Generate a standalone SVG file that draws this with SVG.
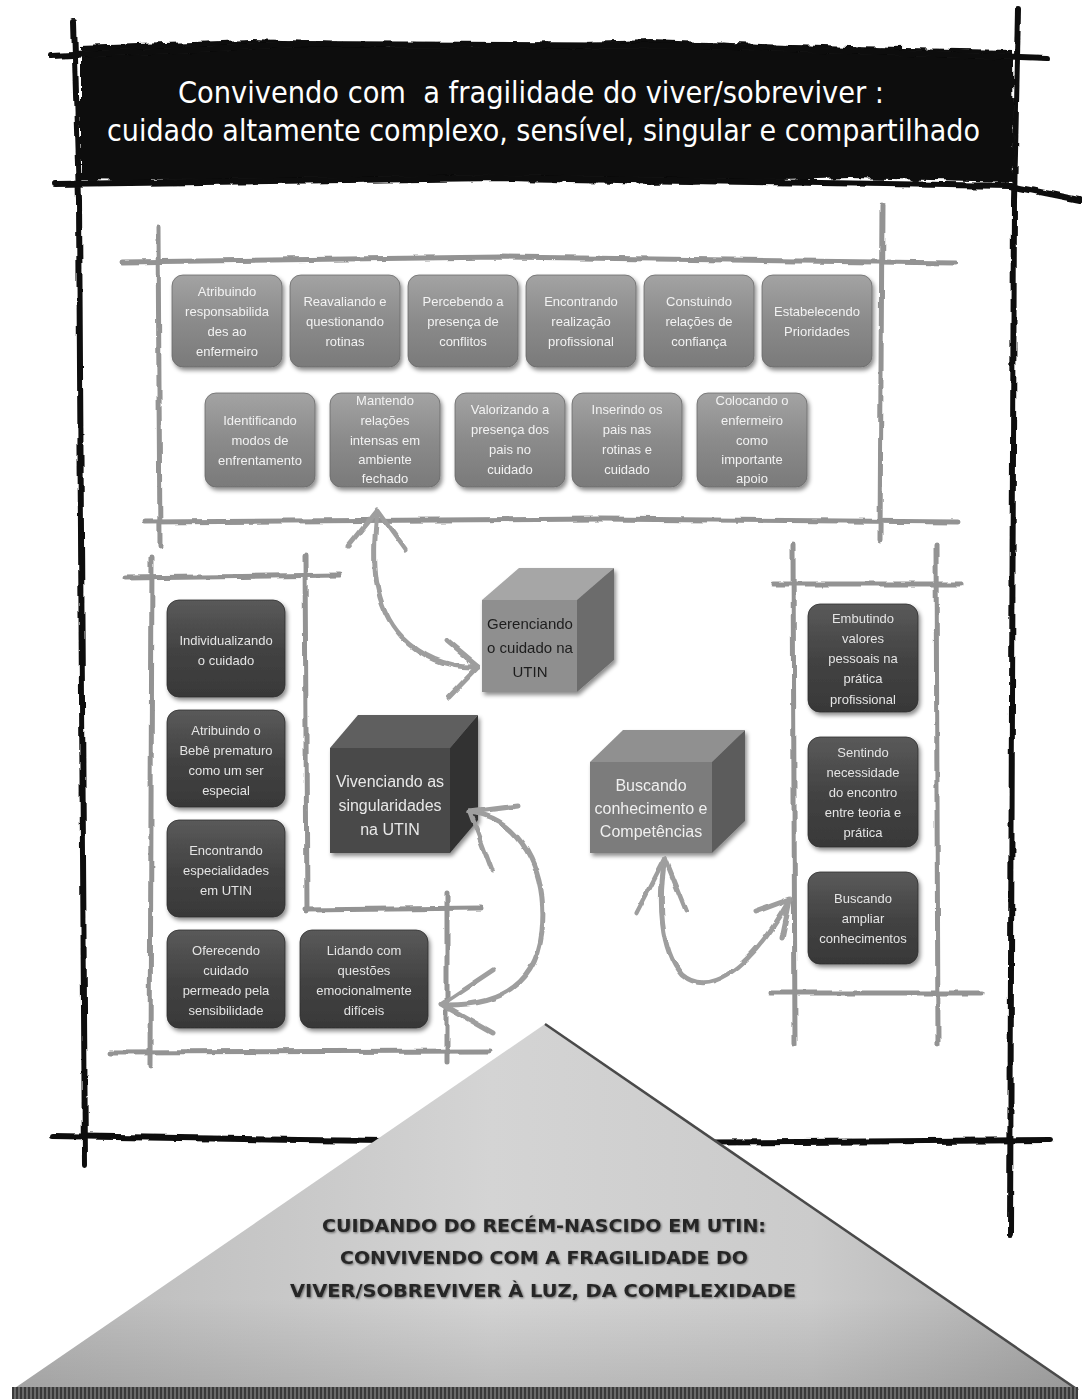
<svg xmlns="http://www.w3.org/2000/svg" width="1082" height="1399" viewBox="0 0 1082 1399">
<defs>
  <filter id="rough" x="-5%" y="-5%" width="110%" height="110%">
    <feTurbulence type="fractalNoise" baseFrequency="0.05" numOctaves="2" seed="3" result="n"/>
    <feDisplacementMap in="SourceGraphic" in2="n" scale="5" xChannelSelector="R" yChannelSelector="G"/>
  </filter>
  <filter id="rough2" x="-5%" y="-10%" width="110%" height="120%">
    <feTurbulence type="fractalNoise" baseFrequency="0.08" numOctaves="2" seed="7" result="n"/>
    <feDisplacementMap in="SourceGraphic" in2="n" scale="9" xChannelSelector="R" yChannelSelector="G"/>
  </filter>
  <filter id="shadow" x="-20%" y="-20%" width="140%" height="140%">
    <feDropShadow dx="2" dy="3" stdDeviation="2" flood-color="#000" flood-opacity="0.45"/>
  </filter>
  <filter id="txtsh" x="-5%" y="-30%" width="110%" height="160%">
    <feDropShadow dx="1" dy="1" stdDeviation="1.2" flood-color="#000" flood-opacity="0.5"/>
  </filter>
  <linearGradient id="gMid" x1="0" y1="0" x2="0" y2="1">
    <stop offset="0" stop-color="#a3a3a3"/>
    <stop offset="0.5" stop-color="#8b8b8b"/>
    <stop offset="1" stop-color="#7a7a7a"/>
  </linearGradient>
  <linearGradient id="gDark" x1="0" y1="0" x2="0" y2="1">
    <stop offset="0" stop-color="#5a5a5a"/>
    <stop offset="0.5" stop-color="#434343"/>
    <stop offset="1" stop-color="#383838"/>
  </linearGradient>
  <linearGradient id="gTri" x1="0" y1="0" x2="1" y2="0">
    <stop offset="0" stop-color="#b8b8b8"/>
    <stop offset="0.45" stop-color="#d4d4d4"/>
    <stop offset="0.75" stop-color="#cbcbcb"/>
    <stop offset="1" stop-color="#acacac"/>
  </linearGradient>
  <linearGradient id="gTriV" x1="0" y1="0" x2="0" y2="1">
    <stop offset="0" stop-color="#000" stop-opacity="0"/>
    <stop offset="0.75" stop-color="#000" stop-opacity="0"/>
    <stop offset="1" stop-color="#000" stop-opacity="0.12"/>
  </linearGradient>
  <pattern id="stripes" width="4" height="12" patternUnits="userSpaceOnUse">
    <rect width="4" height="12" fill="#6a6a6a"/>
    <rect width="2" height="12" fill="#3a3a3a"/>
  </pattern>
  <style>
    .blk{fill:none;stroke:#111;stroke-width:6;stroke-linecap:round;stroke-linejoin:round}
    .gry{fill:none;stroke:#939393;stroke-width:5;stroke-linecap:round;stroke-linejoin:round}
    .arr{fill:none;stroke:#9e9e9e;stroke-width:5;stroke-linecap:round;stroke-linejoin:round}
    .bm{fill:url(#gMid);stroke:#6a6a6a;stroke-width:0.8}
    .bd{fill:url(#gDark);stroke:#2e2e2e;stroke-width:0.8}
    .tb{font-family:"Liberation Sans",Arial,sans-serif;font-size:13px;text-anchor:middle}
    .tm{fill:#f2f2f2}
    .tdk{fill:#e4e4e4}
    .tc{font-family:"Liberation Sans",Arial,sans-serif;font-size:15px;text-anchor:middle}
    .title{font-family:"DejaVu Sans Condensed","Liberation Sans",sans-serif;font-size:31px;fill:#fff;text-anchor:start}
    .tri{font-family:"DejaVu Sans","Liberation Sans",sans-serif;font-weight:bold;font-size:17px;fill:#262626;text-anchor:start}
  </style>
</defs>
<rect width="1082" height="1399" fill="#fff"/>

<!-- black frame lines -->
<g id="frame" filter="url(#rough)">
  <path class="blk" d="M74,22 L79,200 L82,700 L85,1165"/>
  <path class="blk" d="M1018,10 L1014,200 L1012,700 L1010,1235"/>
  <path class="blk" d="M52,1136 L300,1140 L545,1143 L800,1142 L1050,1140"/>
</g>

<!-- header -->
<g id="header">
  <path d="M80,46 L250,40 L450,46 L650,40 L850,47 L1013,50 L1014,182 L850,178 L650,184 L450,178 L250,183 L80,180 Z" fill="#111" filter="url(#rough2)"/>
  <g filter="url(#rough)">
    <path class="blk" d="M52,56 L300,44 L700,46 L1048,58"/>
    <path class="blk" d="M55,184 L500,178 L1010,186 L1080,200"/>
  </g>
  <text class="title" x="178" y="103" textLength="706" lengthAdjust="spacingAndGlyphs" xml:space="preserve">Convivendo com  a fragilidade do viver/sobreviver :</text>
  <text class="title" x="107" y="141" textLength="873" lengthAdjust="spacingAndGlyphs">cuidado altamente complexo, sensível, singular e compartilhado</text>
</g>

<!-- gray panel frames -->
<g id="panels" filter="url(#rough)">
  <path class="gry" d="M122,262 L500,257 L955,263"/>
  <path class="gry" d="M145,522 L600,519 L958,522"/>
  <path class="gry" d="M158,228 L160,545"/>
  <path class="gry" d="M882,205 L880,540"/>
  <path class="gry" d="M125,578 L340,575"/>
  <path class="gry" d="M152,556 L150,1066"/>
  <path class="gry" d="M305,555 L307,912"/>
  <path class="gry" d="M305,910 L480,908"/>
  <path class="gry" d="M447,893 L447,1062"/>
  <path class="gry" d="M110,1052 L490,1051"/>
  <path class="gry" d="M793,545 L795,1045"/>
  <path class="gry" d="M936,545 L938,1045"/>
  <path class="gry" d="M772,584 L962,584"/>
  <path class="gry" d="M770,993 L982,993"/>
</g>

<!-- top row -->
<g id="n1" filter="url(#shadow)"><rect class="bm" x="172" y="275" width="110" height="92" rx="11"/>
  <text class="tb tm"><tspan x="227" y="296">Atribuindo</tspan><tspan x="227" y="316">responsabilida</tspan><tspan x="227" y="336">des ao</tspan><tspan x="227" y="356">enfermeiro</tspan></text></g>
<g id="n2" filter="url(#shadow)"><rect class="bm" x="290" y="275" width="110" height="92" rx="11"/>
  <text class="tb tm"><tspan x="345" y="306">Reavaliando e</tspan><tspan x="345" y="326">questionando</tspan><tspan x="345" y="346">rotinas</tspan></text></g>
<g id="n3" filter="url(#shadow)"><rect class="bm" x="408" y="275" width="110" height="92" rx="11"/>
  <text class="tb tm"><tspan x="463" y="306">Percebendo a</tspan><tspan x="463" y="326">presença de</tspan><tspan x="463" y="346">conflitos</tspan></text></g>
<g id="n4" filter="url(#shadow)"><rect class="bm" x="526" y="275" width="110" height="92" rx="11"/>
  <text class="tb tm"><tspan x="581" y="306">Encontrando</tspan><tspan x="581" y="326">realização</tspan><tspan x="581" y="346">profissional</tspan></text></g>
<g id="n5" filter="url(#shadow)"><rect class="bm" x="644" y="275" width="110" height="92" rx="11"/>
  <text class="tb tm"><tspan x="699" y="306">Constuindo</tspan><tspan x="699" y="326">relações de</tspan><tspan x="699" y="346">confiança</tspan></text></g>
<g id="n6" filter="url(#shadow)"><rect class="bm" x="762" y="275" width="110" height="92" rx="11"/>
  <text class="tb tm"><tspan x="817" y="316">Estabelecendo</tspan><tspan x="817" y="336">Prioridades</tspan></text></g>

<!-- second row -->
<g id="n7" filter="url(#shadow)"><rect class="bm" x="205" y="393" width="110" height="94" rx="11"/>
  <text class="tb tm"><tspan x="260" y="425">Identificando</tspan><tspan x="260" y="445">modos de</tspan><tspan x="260" y="465">enfrentamento</tspan></text></g>
<g id="n8" filter="url(#shadow)"><rect class="bm" x="330" y="393" width="110" height="94" rx="11"/>
  <text class="tb tm"><tspan x="385" y="405">Mantendo</tspan><tspan x="385" y="425">relações</tspan><tspan x="385" y="445">intensas em</tspan><tspan x="385" y="464">ambiente</tspan><tspan x="385" y="483">fechado</tspan></text></g>
<g id="n9" filter="url(#shadow)"><rect class="bm" x="455" y="393" width="110" height="94" rx="11"/>
  <text class="tb tm"><tspan x="510" y="414">Valorizando a</tspan><tspan x="510" y="434">presença dos</tspan><tspan x="510" y="454">pais no</tspan><tspan x="510" y="474">cuidado</tspan></text></g>
<g id="n10" filter="url(#shadow)"><rect class="bm" x="572" y="393" width="110" height="94" rx="11"/>
  <text class="tb tm"><tspan x="627" y="414">Inserindo os</tspan><tspan x="627" y="434">pais nas</tspan><tspan x="627" y="454">rotinas e</tspan><tspan x="627" y="474">cuidado</tspan></text></g>
<g id="n11" filter="url(#shadow)"><rect class="bm" x="697" y="393" width="110" height="94" rx="11"/>
  <text class="tb tm"><tspan x="752" y="405">Colocando o</tspan><tspan x="752" y="425">enfermeiro</tspan><tspan x="752" y="445">como</tspan><tspan x="752" y="464">importante</tspan><tspan x="752" y="483">apoio</tspan></text></g>

<!-- left column -->
<g id="n12" filter="url(#shadow)"><rect class="bd" x="167" y="600" width="118" height="97" rx="12"/>
  <text class="tb tdk"><tspan x="226" y="645">Individualizando</tspan><tspan x="226" y="665">o cuidado</tspan></text></g>
<g id="n13" filter="url(#shadow)"><rect class="bd" x="167" y="710" width="118" height="97" rx="12"/>
  <text class="tb tdk"><tspan x="226" y="735">Atribuindo o</tspan><tspan x="226" y="755">Bebê prematuro</tspan><tspan x="226" y="775">como um ser</tspan><tspan x="226" y="795">especial</tspan></text></g>
<g id="n14" filter="url(#shadow)"><rect class="bd" x="167" y="820" width="118" height="97" rx="12"/>
  <text class="tb tdk"><tspan x="226" y="855">Encontrando</tspan><tspan x="226" y="875">especialidades</tspan><tspan x="226" y="895">em UTIN</tspan></text></g>
<g id="n15" filter="url(#shadow)"><rect class="bd" x="167" y="930" width="118" height="98" rx="12"/>
  <text class="tb tdk"><tspan x="226" y="955">Oferecendo</tspan><tspan x="226" y="975">cuidado</tspan><tspan x="226" y="995">permeado pela</tspan><tspan x="226" y="1015">sensibilidade</tspan></text></g>
<g id="n16" filter="url(#shadow)"><rect class="bd" x="300" y="930" width="128" height="98" rx="12"/>
  <text class="tb tdk"><tspan x="364" y="955">Lidando com</tspan><tspan x="364" y="975">questões</tspan><tspan x="364" y="995">emocionalmente</tspan><tspan x="364" y="1015">difíceis</tspan></text></g>

<!-- right column -->
<g id="n17" filter="url(#shadow)"><rect class="bd" x="808" y="604" width="110" height="108" rx="12"/>
  <text class="tb tdk"><tspan x="863" y="623">Embutindo</tspan><tspan x="863" y="643">valores</tspan><tspan x="863" y="663">pessoais na</tspan><tspan x="863" y="683">prática</tspan><tspan x="863" y="704">profissional</tspan></text></g>
<g id="n18" filter="url(#shadow)"><rect class="bd" x="808" y="737" width="110" height="110" rx="12"/>
  <text class="tb tdk"><tspan x="863" y="757">Sentindo</tspan><tspan x="863" y="777">necessidade</tspan><tspan x="863" y="797">do encontro</tspan><tspan x="863" y="817">entre teoria e</tspan><tspan x="863" y="837">prática</tspan></text></g>
<g id="n19" filter="url(#shadow)"><rect class="bd" x="808" y="872" width="110" height="92" rx="12"/>
  <text class="tb tdk"><tspan x="863" y="903">Buscando</tspan><tspan x="863" y="923">ampliar</tspan><tspan x="863" y="943">conhecimentos</tspan></text></g>

<!-- cubes -->
<g id="c1" filter="url(#shadow)">
  <polygon points="482,600 519,568 614,568 577,600" fill="#a6a6a6"/>
  <polygon points="577,600 614,568 614,660 577,692" fill="#6c6c6c"/>
  <rect x="482" y="600" width="95" height="92" fill="#8f8f8f"/>
  <text class="tc" fill="#1e1e1e"><tspan x="530" y="629">Gerenciando</tspan><tspan x="530" y="653">o cuidado na</tspan><tspan x="530" y="677">UTIN</tspan></text>
</g>
<g id="c2" filter="url(#shadow)">
  <polygon points="330,748 358,715 478,715 450,748" fill="#5e5e5e"/>
  <polygon points="450,748 478,715 478,820 450,853" fill="#303030"/>
  <rect x="330" y="748" width="120" height="105" fill="#494949"/>
  <text class="tc" fill="#e8e8e8" style="font-size:16px"><tspan x="390" y="787">Vivenciando as</tspan><tspan x="390" y="811">singularidades</tspan><tspan x="390" y="835">na UTIN</tspan></text>
</g>
<g id="c3" filter="url(#shadow)">
  <polygon points="590,762 623,730 745,730 712,762" fill="#909090"/>
  <polygon points="712,762 745,730 745,821 712,853" fill="#5c5c5c"/>
  <rect x="590" y="762" width="122" height="91" fill="#7b7b7b"/>
  <text class="tc" fill="#f0f0f0" style="font-size:16px"><tspan x="651" y="791">Buscando</tspan><tspan x="651" y="814">conhecimento e</tspan><tspan x="651" y="837">Competências</tspan></text>
</g>

<!-- connectors -->
<g id="connectors" filter="url(#rough)">
  <path class="arr" d="M377,512 C372,560 372,605 402,637 C425,660 452,668 478,667"/>
  <path class="arr" d="M348,546 L377,510 L406,550"/>
  <path class="arr" d="M447,641 L478,667 L449,697"/>
  <path class="arr" d="M470,812 C520,818 548,870 542,932 C536,985 500,1006 444,1005"/>
  <path class="arr" d="M492,871 L470,812 L518,806"/>
  <path class="arr" d="M493,970 L442,1004 L493,1033"/>
  <path class="arr" d="M665,858 C658,900 660,950 682,975 C705,995 745,978 790,900"/>
  <path class="arr" d="M636,914 L665,858 L686,910"/>
  <path class="arr" d="M755,912 L790,899 L782,938"/>
</g>

<!-- base triangle -->
<g id="base">
  <polygon points="545,1024 12,1390 1078,1390" fill="url(#gTri)"/>
  <polygon points="545,1024 12,1390 1078,1390" fill="url(#gTriV)"/>
  <path d="M545,1024 L1078,1390" stroke="#4a4a4a" stroke-width="2.5" fill="none"/>
  <rect x="12" y="1387" width="1066" height="12" fill="url(#stripes)"/>
  <g filter="url(#txtsh)">
    <text class="tri" x="322" y="1232" textLength="444" lengthAdjust="spacingAndGlyphs">CUIDANDO DO RECÉM-NASCIDO EM UTIN:</text>
    <text class="tri" x="340" y="1264" textLength="408" lengthAdjust="spacingAndGlyphs">CONVIVENDO COM A FRAGILIDADE DO</text>
    <text class="tri" x="290" y="1297" textLength="506" lengthAdjust="spacingAndGlyphs">VIVER/SOBREVIVER À LUZ, DA COMPLEXIDADE</text>
  </g>
</g>
</svg>
